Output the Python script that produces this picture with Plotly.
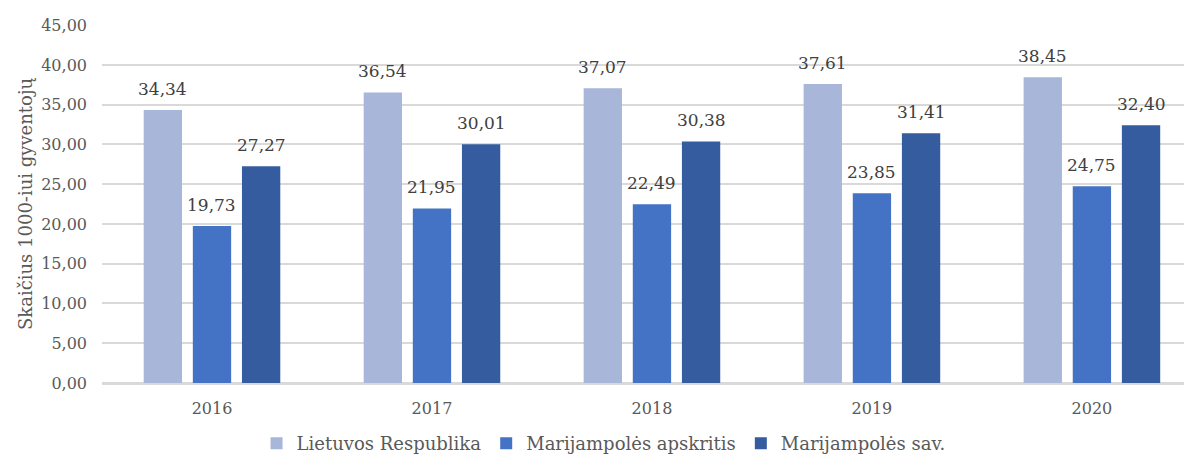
import plotly.graph_objects as go

years = ["2016", "2017", "2018", "2019", "2020"]
series_names = ["Lietuvos Respublika", "Marijampolės apskritis", "Marijampolės sav."]
lr = [34.34, 36.54, 37.07, 37.61, 38.45]
apskr = [19.73, 21.95, 22.49, 23.85, 24.75]
sav = [27.27, 30.01, 30.38, 31.41, 32.40]
colors = ["#A8B6DA", "#4472C4", "#355C9F"]
y_ticks = [0, 5, 10, 15, 20, 25, 30, 35, 40, 45]

FONT = "DejaVu Serif"
TICK = "#595959"

def fmt(v):
    return f"{v:.2f}".replace(".", ",")

fig = go.Figure()
for name, vals, col in zip(series_names, [lr, apskr, sav], colors):
    fig.add_trace(go.Bar(
        x=years, y=vals, name=name, marker_color=col, marker_line_width=0,
        textposition="none", offsetgroup=name,
    ))

BARGAP = 0.33
# page body has an 8px margin; figure sized/offset to compensate
fig.update_layout(
    width=1184, height=454,
    margin=dict(l=94, r=0, t=17, b=79, autoexpand=False),
    paper_bgcolor="white", plot_bgcolor="white",
    barmode="group", bargap=BARGAP, bargroupgap=0.22,
    font=dict(family=FONT, color=TICK, size=16),
    showlegend=True,
    legend=dict(orientation="h", x=0.503, xref="container", xanchor="center",
                y=0.0, yref="container", yanchor="bottom",
                font=dict(family=FONT, size=18, color=TICK),
                itemwidth=30, tracegroupgap=0, entrywidth=0),
    xaxis=dict(range=[-0.5, 4.455], showgrid=False, zeroline=False, showline=False,
               ticks="", automargin=False, ticklabelstandoff=14,
               tickfont=dict(family=FONT, size=16, color=TICK)),
    yaxis=dict(range=[0, 45.02], tickvals=y_ticks, ticktext=[fmt(t) for t in y_ticks],
               showgrid=True, gridcolor="#D9D9D9", gridwidth=1.5,
               zeroline=True, zerolinecolor="#D9D9D9", zerolinewidth=2.5,
               showline=False, ticks="", ticklabelstandoff=14, automargin=False,
               tickfont=dict(family=FONT, size=16, color=TICK),
               title=dict(text="Skaičius 1000-iui gyventojų", standoff=3,
                          font=dict(family=FONT, size=18, color=TICK))),
)

n = len(series_names)
slot = (1 - BARGAP) / n
for i, vals in enumerate([lr, apskr, sav]):
    off = (i - (n - 1) / 2) * slot
    for j, v in enumerate(vals):
        fig.add_annotation(x=j + off, y=v, text=fmt(v), showarrow=False,
                           xref="x", yref="y", yanchor="bottom", yshift=9,
                           font=dict(family=FONT, size=17, color="#404040"))

fig.write_html("out.html")
